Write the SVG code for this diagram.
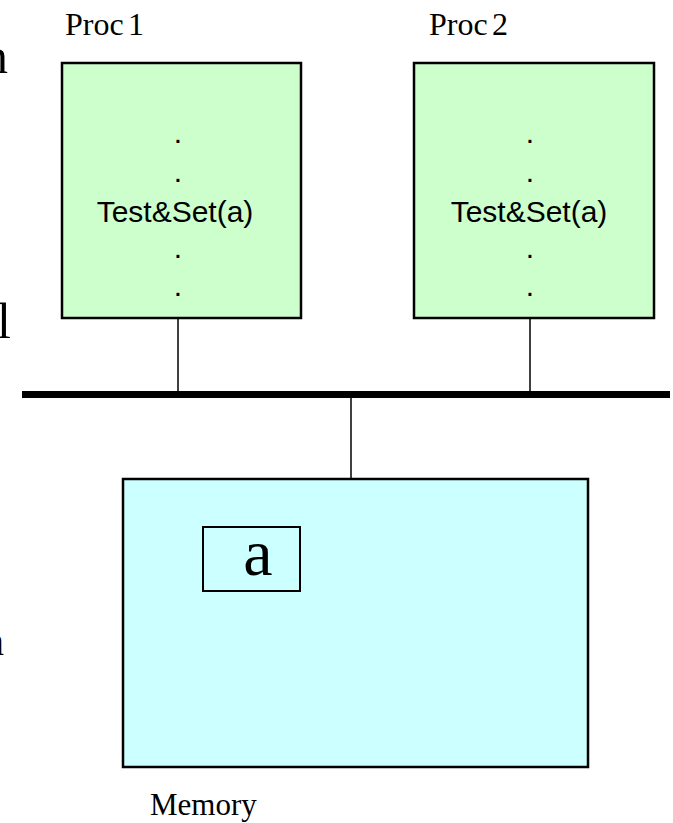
<svg xmlns="http://www.w3.org/2000/svg" width="673" height="823" viewBox="0 0 673 823">
<style>
.serif{font-family:"Liberation Serif","Times New Roman",serif;fill:#000}
.sans{font-family:"Liberation Sans",Arial,sans-serif;fill:#000;font-size:30px;text-anchor:middle}
.proc{fill:#CCFFCC;stroke:#000;stroke-width:2.5}
.mem{fill:#CCFFFF;stroke:#000;stroke-width:2.5}
.conn{stroke:#000;stroke-width:1.5;fill:none}
</style>
<rect width="673" height="823" fill="#fff"/>
<g id="edge-text">
<text class="serif" x="-17" y="73" font-size="50">n</text>
<text class="serif" x="-3" y="338" font-size="50">l</text>
<text class="serif" x="-16" y="655" font-size="40">n</text>
</g>
<g id="connectors">
<line class="conn" x1="178" y1="314" x2="178" y2="392"/>
<line class="conn" x1="530" y1="314" x2="530" y2="392"/>
<line class="conn" x1="351" y1="396" x2="351" y2="479" stroke-width="2"/>
<line x1="22" y1="394.5" x2="670" y2="394.5" stroke="#000" stroke-width="7"/>
</g>
<g id="proc1">
<text class="serif" x="65" y="35" font-size="32">Proc<tspan x="128">1</tspan></text>
<rect class="proc" x="62" y="63" width="239" height="255"/>
<text class="sans" x="178" y="143">.</text>
<text class="sans" x="178" y="182">.</text>
<text class="sans" x="175" y="222">Test&amp;Set(a)</text>
<text class="sans" x="178" y="258">.</text>
<text class="sans" x="178" y="296">.</text>
</g>
<g id="proc2">
<text class="serif" x="429" y="35" font-size="32">Proc<tspan x="492">2</tspan></text>
<rect class="proc" x="414" y="63" width="240" height="255"/>
<text class="sans" x="530" y="143">.</text>
<text class="sans" x="530" y="182">.</text>
<text class="sans" x="529" y="222">Test&amp;Set(a)</text>
<text class="sans" x="530" y="258">.</text>
<text class="sans" x="530" y="296">.</text>
</g>
<g id="memory">
<rect class="mem" x="123" y="479" width="465" height="288"/>
<g id="var-a">
<rect x="203" y="527" width="97" height="64" fill="none" stroke="#000" stroke-width="2"/>
<text class="serif" x="258" y="575" font-size="66" text-anchor="middle">a</text>
</g>
<text class="serif" x="150" y="815" font-size="31">Memory</text>
</g>
</svg>
